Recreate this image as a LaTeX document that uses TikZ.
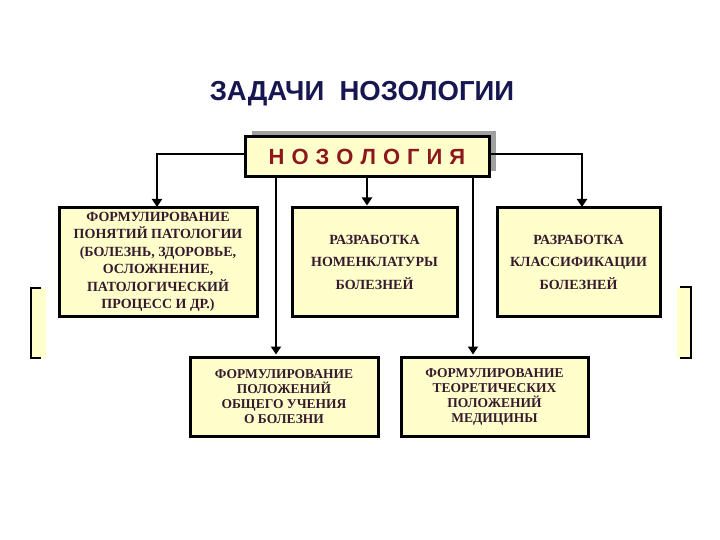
\documentclass[tikz,border=0pt]{standalone}
\usepackage{fontspec}
\setmainfont{Liberation Serif}
\newfontfamily\sansbold{Liberation Sans}
\usetikzlibrary{arrows.meta}
\definecolor{boxfill}{RGB}{255,255,204}
\definecolor{titleblue}{RGB}{22,22,80}
\definecolor{nzred}{RGB}{140,24,30}
\definecolor{boxtext}{RGB}{55,25,45}
\definecolor{shadowgray}{RGB}{160,160,160}
\tikzset{
  taskbox/.style={draw=black, line width=3pt, fill=boxfill, inner sep=2pt,
    align=center, text=boxtext, font=\fontsize{14}{17.5}\selectfont\bfseries},
  conn/.style={line width=2.5pt, draw=black},
  arr/.style={conn, -{Triangle[length=8pt,width=10pt]}},
  bracketline/.style={line width=2.5pt, draw=black}
}
\begin{document}
\begin{tikzpicture}[x=1pt,y=-1pt]
\useasboundingbox (0,0) rectangle (720,540);
\fill[white] (0,0) rectangle (720,540);

% title
\node[font=\sansbold\bfseries\fontsize{27.5}{30}\selectfont, text=titleblue] (title) at (362,94) {ЗАДАЧИ\ \ НОЗОЛОГИИ};

% top box with shadow
\fill[shadowgray] (252,131) rectangle (496,171);
\node[draw=black, line width=3pt, fill=boxfill, minimum width=244pt, minimum height=40pt, inner sep=0pt,
  text=nzred, font=\sansbold\bfseries\fontsize{22}{24}\selectfont] (top) at (367,157)
  {Н\kern7pt О\kern7pt З\kern7pt О\kern7pt Л\kern7pt О\kern7pt Г\kern7pt И\kern7pt Я};

% boxes
\node[taskbox, minimum width=198pt, minimum height=108pt] (b1) at (158,262)
  {ФОРМУЛИРОВАНИЕ\\ПОНЯТИЙ ПАТОЛОГИИ\\(БОЛЕЗНЬ, ЗДОРОВЬЕ,\\ОСЛОЖНЕНИЕ,\\ПАТОЛОГИЧЕСКИЙ\\ПРОЦЕСС И ДР.)};
\node[taskbox, minimum width=165pt, minimum height=108pt, font=\fontsize{14}{22.5}\selectfont\bfseries] (b2) at (374.5,262)
  {РАЗРАБОТКА\\НОМЕНКЛАТУРЫ\\БОЛЕЗНЕЙ};
\node[taskbox, minimum width=163pt, minimum height=108pt, font=\fontsize{14}{22.5}\selectfont\bfseries] (b3) at (578.5,262)
  {РАЗРАБОТКА\\КЛАССИФИКАЦИИ\\БОЛЕЗНЕЙ};
\node[taskbox, minimum width=188pt, minimum height=79pt, font=\fontsize{13.5}{15}\selectfont\bfseries] (b4) at (284,396.5)
  {ФОРМУЛИРОВАНИЕ\\ПОЛОЖЕНИЙ\\ОБЩЕГО УЧЕНИЯ\\О БОЛЕЗНИ};
\node[taskbox, minimum width=187pt, minimum height=79pt, font=\fontsize{13.5}{15}\selectfont\bfseries] (b5) at (494.5,396.5)
  {ФОРМУЛИРОВАНИЕ\\ТЕОРЕТИЧЕСКИХ\\ПОЛОЖЕНИЙ\\МЕДИЦИНЫ};

% connectors
\coordinate (tl) at (245,154);
\coordinate (tr) at (489,154);
\coordinate (a1) at (157,207);
\coordinate (a3) at (582,207);
\draw[arr] (tl) -| (a1);
\draw[arr] (tr) -| (a3);
\draw[arr] (top.south) -- ([yshift=1pt]top.south |- b2.north);
\coordinate (l4) at (276,177);
\coordinate (l5) at (473,177);
\draw[arr] (l4) -- ([yshift=1pt]l4 |- b4.north);
\draw[arr] (l5) -- ([yshift=1pt]l5 |- b5.north);

% side brackets
\fill[boxfill] (31,288) rectangle (46,358);
\draw[bracketline] (41,288) -- (31,288) -- (31,358) -- (41,358);
\fill[boxfill] (677,287) rectangle (691,358);
\draw[bracketline] (680,287) -- (691,287) -- (691,358) -- (680,358);
\end{tikzpicture}
\end{document}
